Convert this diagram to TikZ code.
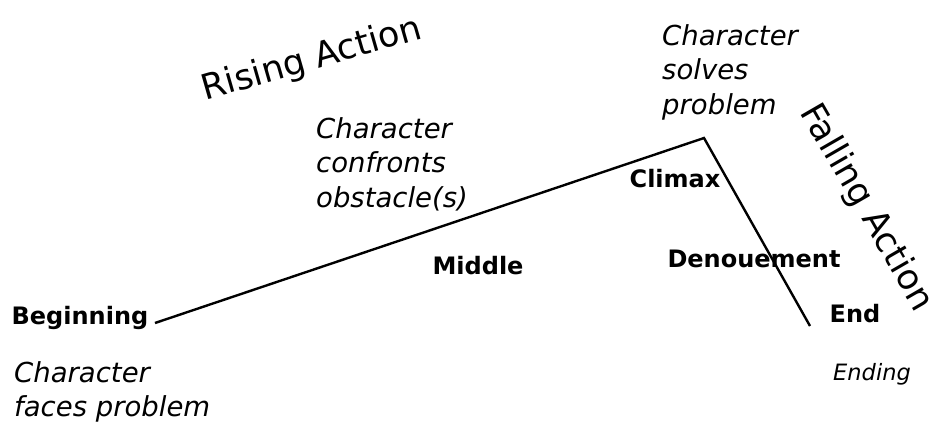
\documentclass[tikz,border=0pt]{standalone}
\usepackage{fontspec}
\setmainfont{DejaVu Sans}
\begin{document}
\begin{tikzpicture}[x=1pt,y=-1pt,
  lbl/.style={font=\bfseries\fontsize{24}{28}\selectfont, inner sep=0pt},
  note/.style={font=\itshape\fontsize{27.5}{34.5}\selectfont, inner sep=0pt, align=left, anchor=north west},
  big/.style={font=\fontsize{35}{40}\selectfont, inner sep=0pt},
  plot/.style={line width=2.4pt, line join=miter}]
\useasboundingbox (0,0) rectangle (941,421);
\coordinate (b) at (155,323);
\coordinate (p) at (704,138);
\coordinate (e) at (810,326);
\draw[plot] (b) -- (p) -- (e);
\node[lbl] (beg) at (80,318) {Beginning};
\node[note] (faces) at (14,361) {Character\\faces problem};
\node[big, rotate=16] (rise) at (312,60) {Rising Action};
\node[note] (conf) at (316,117) {Character\\confronts\\obstacle(s)};
\node[lbl] (mid) at (478,266) {Middle};
\node[lbl] (clim) at (675,179) {Climax};
\node[note] (solv) at (662,24) {Character\\solves\\problem};
\node[big, rotate=-60] (fall) at (866,208) {Falling Action};
\node[lbl] (den) at (754,259) {Denouement};
\node[lbl] (end) at (855,314) {End};
\node[font=\itshape\fontsize{22.5}{26}\selectfont, inner sep=0pt] (ending) at (872,374) {Ending};
\end{tikzpicture}
\end{document}
